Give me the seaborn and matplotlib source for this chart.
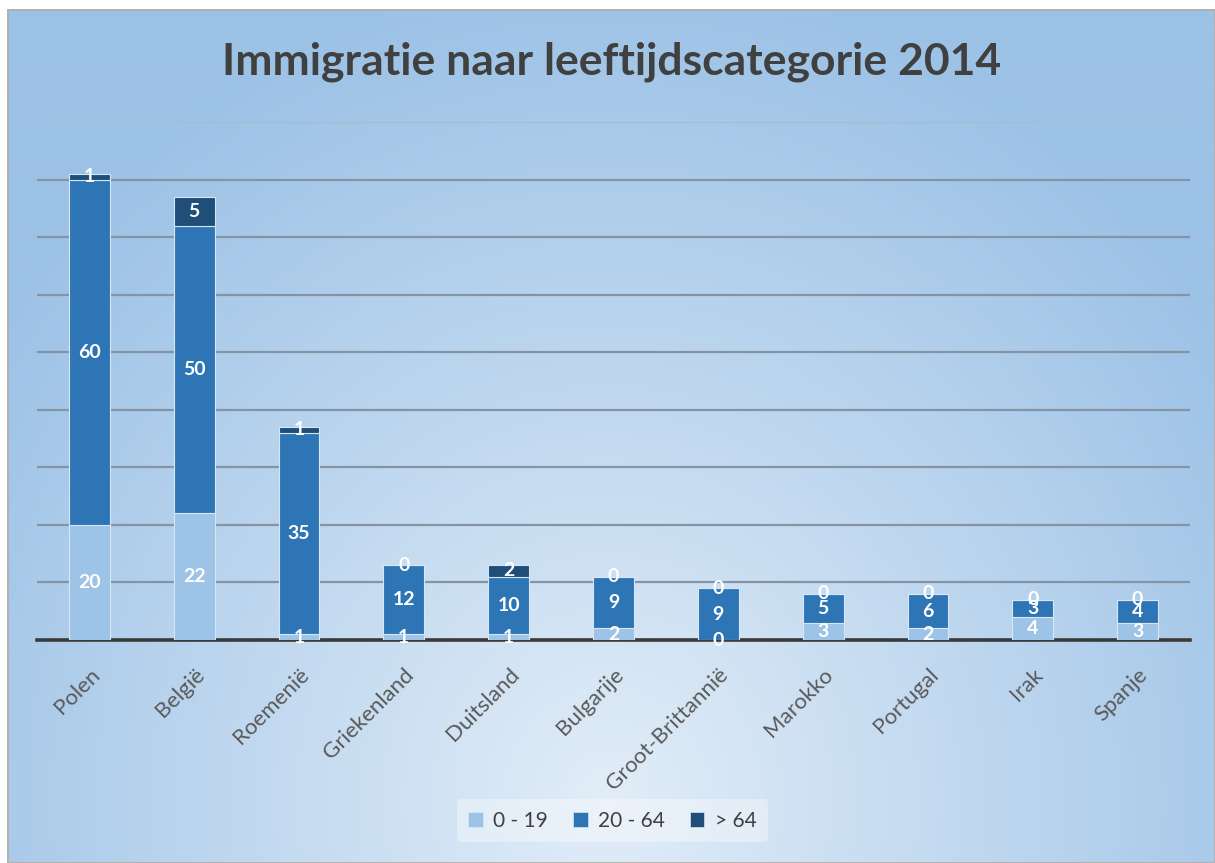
import numpy as np
import pandas as pd
import matplotlib.pyplot as plt
import seaborn as sns
from matplotlib.colors import to_rgb
from matplotlib.patches import Rectangle, Patch

landen = ['Polen', 'België', 'Roemenië', 'Griekenland', 'Duitsland', 'Bulgarije',
          'Groot-Brittannië', 'Marokko', 'Portugal', 'Irak', 'Spanje']
jong = [20, 22, 1, 1, 1, 2, 0, 3, 2, 4, 3]
midden = [60, 50, 35, 12, 10, 9, 9, 5, 6, 3, 4]
oud = [1, 5, 1, 0, 2, 0, 0, 0, 0, 0, 0]
groepen = ['0 - 19', '20 - 64', '> 64']
kleuren = ['#9dc3e6', '#2e75b6', '#1f4e79']

sns.set_style('white')
plt.rcParams['font.family'] = ['Lato', 'DejaVu Sans']

fig = plt.figure(figsize=(12.15, 8.63), dpi=100)
fig.patch.set_facecolor('white')

# achtergrond met radiaal verloop
bg = fig.add_axes([7 / 1215, 0, 1 - 7 / 1215, 1 - 9 / 863], zorder=-1)
h, w = 854, 1208
yy, xx = np.mgrid[0:h, 0:w]
d = np.sqrt(((xx - 600) / 750.0) ** 2 + ((yy - 790) / 820.0) ** 2)
d = np.clip(d, 0, 1)[..., None]
binnen = np.array(to_rgb('#e2edf8'))
buiten = np.array(to_rgb('#9cc2e6'))
img = binnen * (1 - d) + buiten * d
bg.imshow(img, aspect='auto', extent=[0, 1, 0, 1], origin='upper')
bg.add_patch(Rectangle((0, 0), 1, 1, transform=bg.transAxes, fill=False,
                       edgecolor='#b0b0b0', linewidth=2))
bg.axis('off')

ax = fig.add_axes([37 / 1215, 1 - 640 / 863, (1190 - 37) / 1215, (640 - 122) / 863])
ax.patch.set_alpha(0)

df = pd.DataFrame({'land': landen, 'jong': jong, 'midden': midden, 'oud': oud})
onder2 = df['jong'] + df['midden']

sns.barplot(data=df, x='land', y='jong', color=kleuren[0], width=0.39, saturation=1,
            edgecolor='#d6e6f4', linewidth=0.8, ax=ax, zorder=3)
sns.barplot(data=df, x='land', y='midden', bottom=df['jong'], color=kleuren[1], width=0.39,
            saturation=1, edgecolor='#d6e6f4', linewidth=0.8, ax=ax, zorder=3)
sns.barplot(data=df, x='land', y='oud', bottom=onder2, color=kleuren[2], width=0.39,
            saturation=1, edgecolor='#d6e6f4', linewidth=0.8, ax=ax, zorder=3)

for c in ax.containers:
    ax.bar_label(c, label_type='center', color='white', fontsize=14, fontweight='bold')

ax.set_xlim(-0.5, 10.5)
ax.set_ylim(0, 90)
ax.set_yticks(range(10, 91, 10))
ax.yaxis.grid(True, color='#8593a3', linewidth=1.6, zorder=0)
ax.get_ygridlines()[-1].set_color('#a9bacb')
ax.set_axisbelow(True)
ax.tick_params(axis='y', left=False, labelleft=False)
ax.tick_params(axis='x', bottom=False, pad=14)
for s in ['left', 'right', 'top']:
    ax.spines[s].set_visible(False)
ax.spines['bottom'].set_color('#3a3a3a')
ax.spines['bottom'].set_linewidth(2.6)
ax.set_xlabel('')
ax.set_ylabel('')
ax.set_xticks(range(len(landen)))
ax.set_xticklabels(landen, rotation=45, ha='right', rotation_mode='anchor',
                   fontsize=16, color='#595959')

fig.text(0.503, 1 - 62 / 863, 'Immigratie naar leeftijdscategorie 2014', ha='center',
         va='center', fontsize=32, fontweight='bold', color='#404040')

handles = [Patch(facecolor=k, edgecolor='#d6e6f4', linewidth=0.5) for k in kleuren]
leg = fig.legend(handles, groepen, loc='lower center', bbox_to_anchor=(0.504, 0.012), ncol=3,
                 frameon=True, fontsize=15, handlelength=0.7, handleheight=0.7,
                 columnspacing=1.2, handletextpad=0.5, borderpad=0.55)
leg.get_frame().set_facecolor('white')
leg.get_frame().set_alpha(0.35)
leg.get_frame().set_edgecolor('none')
for t in leg.get_texts():
    t.set_color('#404040')

plt.savefig('out.png', dpi=100)
